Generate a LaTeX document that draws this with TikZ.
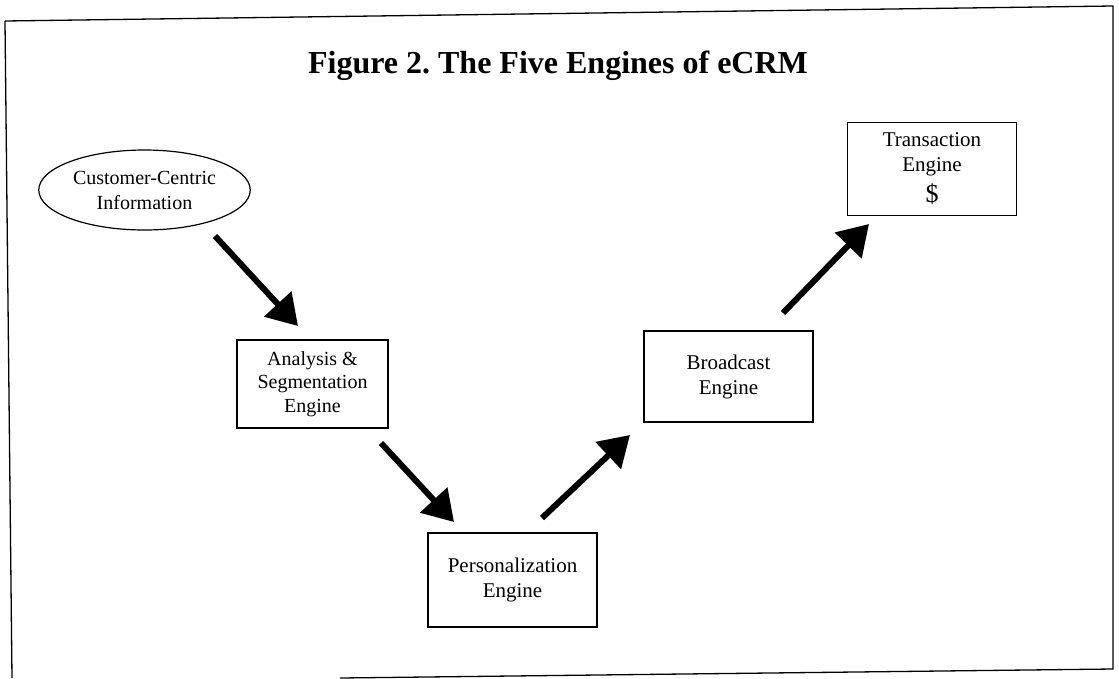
\documentclass[tikz,border=0pt]{standalone}
\usepackage{fontspec}
\setmainfont{Liberation Serif}
\usetikzlibrary{arrows.meta,shapes.geometric}

\tikzset{
  engine/.style={draw,line width=1.2pt,align=center,
    minimum width=169,minimum height=92,
    font=\fontsize{21}{25}\selectfont},
  flow/.style={line width=6pt,-{Triangle[length=30pt,width=36pt]}}
}

\begin{document}
\begin{tikzpicture}[x=1pt,y=-1pt]
  \useasboundingbox (0,0) rectangle (1119,678);

  % Frame (scanned page, slightly tilted)
  \draw[line width=1.3pt] (5,21) -- (1113,6) -- (1113,669) -- (340,678);
  \draw[line width=1.3pt] (5,21) -- (12,678);

  % Title
  \node[anchor=base,font=\fontsize{32}{36}\selectfont\bfseries] (title) at (558,73)
    {Figure 2.\ The Five Engines of eCRM};

  % Source and engines
  \node[draw,ellipse,line width=1.2pt,align=center,
        minimum width=205,minimum height=80,
        font=\fontsize{20}{25}\selectfont] (cust) at (144.5,190)
    {Customer-Centric\\Information};
  \node[engine,minimum width=151,minimum height=88,
        font=\fontsize{20}{23.5}\selectfont] (ana) at (312.5,384)
    {Analysis \&\\Segmentation\\Engine};
  \node[engine,minimum height=94] (pers) at (512.5,580) {Personalization\\Engine};
  \node[engine,minimum height=91] (broad) at (728.5,376.5) {Broadcast\\Engine};
  \node[engine,minimum height=93] (trans) at (932,169)
    {Transaction\\Engine\\[6pt]{\fontsize{26}{28}\selectfont\$}};

  % Arrow ends (the arrows stand free of the boxes)
  \coordinate (a1s) at (215,236); \coordinate (a1e) at (298,326);
  \coordinate (a2s) at (381,443); \coordinate (a2e) at (454,522);
  \coordinate (a3s) at (542,518); \coordinate (a3e) at (630,435);
  \coordinate (a4s) at (783,313); \coordinate (a4e) at (869,224);

  % Flow
  \draw[flow] (a1s) -- (a1e);
  \draw[flow] (a2s) -- (a2e);
  \draw[flow] (a3s) -- (a3e);
  \draw[flow] (a4s) -- (a4e);
\end{tikzpicture}
\end{document}
